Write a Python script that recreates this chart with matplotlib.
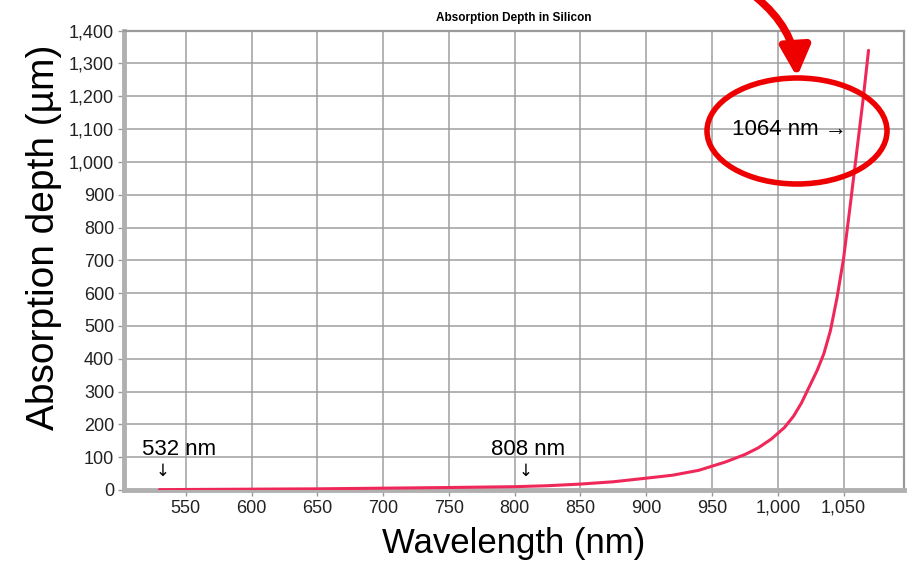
import matplotlib
matplotlib.use("Agg")
import matplotlib.pyplot as plt
from matplotlib.patches import Ellipse, FancyArrowPatch

# ---- data ----
wavelength_nm = [530, 550, 600, 650, 700, 750, 800, 825, 850, 875, 900, 920,
                 940, 960, 975, 985, 995, 1005, 1012, 1018, 1024, 1030, 1035,
                 1040, 1045, 1050, 1055, 1060, 1065, 1069]
depth_um = [1, 1.5, 2.5, 3.5, 5.5, 7.5, 10, 13, 18, 25, 36, 45,
            60, 85, 108, 128, 155, 190, 225, 265, 315, 365, 415,
            485, 585, 705, 865, 1030, 1195, 1340]
x_ticks = [550, 600, 650, 700, 750, 800, 850, 900, 950, 1000, 1050]
y_ticks = list(range(0, 1401, 100))
marker_wl = [532, 808]
marker_labels = ["532 nm", "808 nm"]
highlight_wl = 1064
highlight_label = "1064 nm →"
title = "Absorption Depth in Silicon"
xlabel = "Wavelength (nm)"
ylabel = "Absorption depth (µm)"

FONT = ["Liberation Sans", "DejaVu Sans"]

fig = plt.figure(figsize=(9.21, 5.61), dpi=100)
fig.patch.set_facecolor("white")
ax = fig.add_axes([0.1346, 0.1266, 0.847, 0.8187])

ax.set_xlim(503, 1096)
ax.set_ylim(0, 1400)
ax.set_xticks(x_ticks)
ax.set_yticks(y_ticks)
ax.set_xticklabels([f"{v:,}" for v in x_ticks], family=FONT, fontsize=13, color="#222222")
ax.set_yticklabels([f"{v:,}" for v in y_ticks], family=FONT, fontsize=13, color="#222222")
ax.tick_params(axis="both", length=4, width=1, color="#999999", pad=3)
ax.grid(True, color="#9a9a9a", linewidth=1.3, alpha=0.8)
ax.set_axisbelow(True)
for s in ["top", "right"]:
    ax.spines[s].set_color("#9a9a9a")
    ax.spines[s].set_linewidth(1.6)
for s in ["left", "bottom"]:
    ax.spines[s].set_color("#b0b0b0")
    ax.spines[s].set_linewidth(3.5)

ax.plot(wavelength_nm, depth_um, color="#f0285a", linewidth=2.2,
        solid_capstyle="round", solid_joinstyle="round", zorder=3)

ax.set_title(title, fontsize=8.5, fontweight="bold", family=FONT, pad=7)
ax.set_xlabel(xlabel, fontsize=25, family=FONT)
ax.set_ylabel(ylabel, fontsize=28, family=FONT)
ax.xaxis.set_label_coords(0.5, -0.08)
ax.yaxis.set_label_coords(-0.08, 0.55)

label_offsets = [13, 2]
for wl, lab, off in zip(marker_wl, marker_labels, label_offsets):
    ax.text(wl + off, 90, lab, fontsize=16, family=FONT, ha="center", va="bottom", zorder=4)
    ax.text(wl, 58, "↓", fontsize=12, family=["DejaVu Sans"], ha="center", va="center", zorder=4)

ax.text(highlight_wl - 11, 1100, highlight_label, fontsize=16, family=FONT,
        ha="right", va="center", zorder=4)

# red highlight ellipse and arrow (figure coords)
ell = Ellipse((797 / 921, 1 - 131 / 561), 180 / 921, 106 / 561, transform=fig.transFigure,
              fill=False, edgecolor="#ee0000", linewidth=4, zorder=10)
fig.patches.append(ell)
arr = FancyArrowPatch((756 / 921, 1.005), (797 / 921, 1 - 77 / 561), transform=fig.transFigure,
                      connectionstyle="arc3,rad=-0.22", arrowstyle="-|>,head_length=18,head_width=9",
                      mutation_scale=1, color="#ee0000", linewidth=5.5, zorder=10,
                      shrinkA=0, shrinkB=0)
fig.patches.append(arr)

fig.savefig("out.png", dpi=100, facecolor="white")
